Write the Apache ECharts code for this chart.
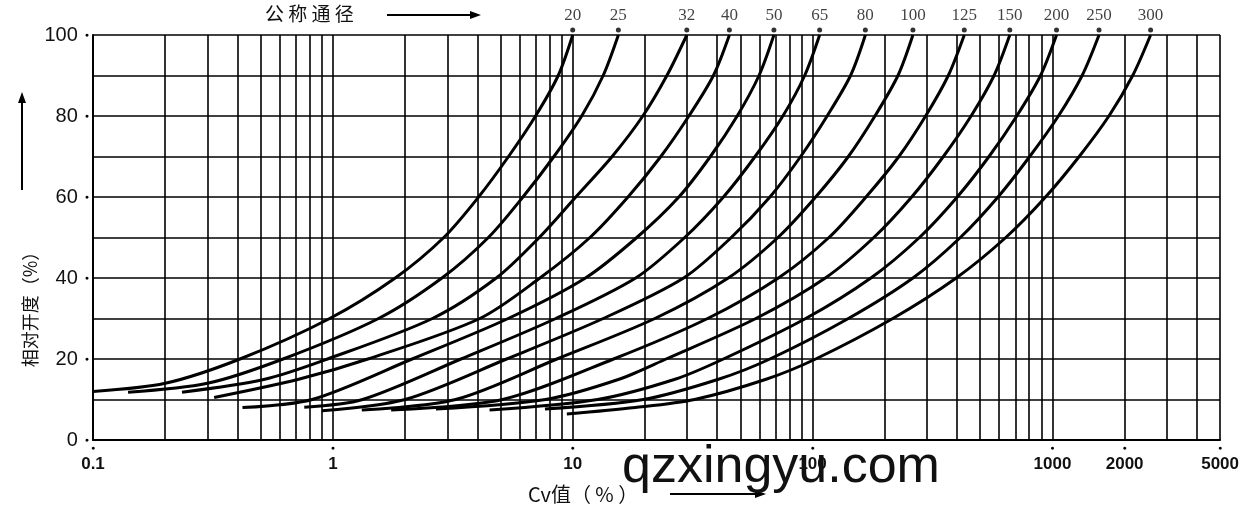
<!DOCTYPE html>
<html>
<head>
<meta charset="utf-8">
<script src="https://cdn.jsdelivr.net/npm/echarts@6/dist/echarts.min.js"></script>
<style>
html, body { margin: 0; padding: 0; background: #fff; }
#con { width: 1242px; height: 515px; }
</style>
</head>
<body>
<div id="con"></div>
<script>
// 公称通径 (curve names)
var sizes = ['20', '25', '32', '40', '50', '65', '80', '100', '125', '150', '200', '250', '300'];

// each curve: [Cv, 相对开度]
var c20  = [[0.1, 12], [0.2, 14], [0.41, 20], [0.97, 30], [1.82, 40], [2.9, 50], [4.05, 60], [5.4, 70], [7.0, 80], [8.7, 90], [10, 100]];
var c25  = [[0.14, 11.8], [0.3, 14], [0.62, 20], [1.55, 30], [2.85, 40], [4.45, 50], [6.2, 60], [8.35, 70], [10.9, 80], [13.4, 90], [15.5, 100]];
var c32  = [[0.235, 11.8], [0.52, 15], [0.95, 20], [2.6, 30], [4.8, 40], [7.25, 50], [10.3, 60], [14.6, 70], [19.6, 80], [24.7, 90], [29.9, 100]];
var c40  = [[0.32, 10.5], [0.72, 15], [1.4, 20], [4.1, 30], [7.3, 40], [11.8, 50], [17, 60], [23.3, 70], [30.5, 80], [38.6, 90], [45, 100]];
var c50  = [[0.42, 8], [0.82, 10], [2.14, 20], [5.38, 30], [11.3, 40], [18.5, 50], [27.7, 60], [37.5, 70], [48.5, 80], [59.8, 90], [69, 100]];
var c65  = [[0.76, 8.1], [1.33, 10], [3.42, 20], [8.5, 30], [18.3, 40], [29.3, 50], [42.5, 60], [57.6, 70], [75.2, 80], [92.7, 90], [107, 100]];
var c80  = [[0.9, 7.2], [2.0, 10], [5.3, 20], [13.4, 30], [29, 40], [45.8, 50], [66.4, 60], [89.2, 70], [115, 80], [144, 90], [166, 100]];
var c100 = [[1.32, 7.4], [3.25, 10], [8.59, 20], [22, 30], [44.5, 40], [71.7, 50], [103, 60], [141, 70], [182, 80], [227, 90], [262, 100]];
var c125 = [[1.75, 7.4], [5.1, 10], [14.8, 20], [36.5, 30], [72, 40], [117, 50], [167, 60], [229, 70], [296, 80], [368, 90], [429, 100]];
var c150 = [[2.69, 7.65], [7.7, 10], [15.6, 15], [24.5, 20], [58, 30], [113, 40], [180, 50], [259, 60], [351, 70], [458, 80], [571, 90], [664, 100]];
var c200 = [[4.5, 7.4], [12.7, 10], [26.7, 15], [42.5, 20], [93.6, 30], [175, 40], [279, 50], [401, 60], [544, 70], [710, 80], [892, 90], [1040, 100]];
var c250 = [[7.66, 7.65], [19.7, 10], [40.5, 15], [66.4, 20], [141, 30], [262, 40], [413, 50], [593, 60], [804, 70], [1059, 80], [1330, 90], [1564, 100]];
var c300 = [[9.45, 6.4], [18.2, 8], [32.2, 10], [64, 15], [103, 20], [216, 30], [397, 40], [639, 50], [936, 60], [1293, 70], [1720, 80], [2161, 90], [2566, 100]];
var curves = [c20, c25, c32, c40, c50, c65, c80, c100, c125, c150, c200, c250, c300];

// axis
var xLabels = [0.1, 1, 10, 100, 1000, 2000, 5000];
var decades = [0.1, 1, 10, 100];
var xTop = [1000, 2000, 3000, 4000, 5000];

// 竖向网格线
var xGrid = [];
for (var i = 0; i < decades.length; i++) {
	for (var k = 1; k <= 9; k++) {
		xGrid.push(+(decades[i] * k).toPrecision(3));
	}
}
xGrid = xGrid.concat(xTop);

var ends = curves.map(function (d, i) {
	var last = d[d.length - 1];
	return [last[0], last[1], sizes[i]];
});

var myChart = echarts.init(document.getElementById('con'));

var series = curves.map(function (d, i) {
	return {
		name: sizes[i],
		type: 'line',
		data: d,
		smooth: 0.3,
		symbol: 'none',
		clip: false,
		lineStyle: { color: '#000', width: 3 },
		z: 3
	};
});

series.push({
	type: 'scatter',
	data: ends,
	symbol: 'circle',
	symbolSize: 5,
	symbolOffset: [0, -5],
	clip: false,
	itemStyle: { color: '#000' },
	label: {
		show: true,
		position: 'top',
		distance: 3,
		formatter: function (p) { return p.data[2]; },
		fontFamily: 'Liberation Serif',
		fontSize: 17,
		color: '#111'
	},
	markLine: {
		silent: true,
		symbol: ['none', 'none'],
		label: { show: false },
		lineStyle: { color: '#000', width: 1.6, type: 'solid' },
		data: xGrid.map(function (v) { return { xAxis: v }; })
	},
	z: 4
});

function arrow(x1, y1, x2, y2) {
	var ang = Math.atan2(y2 - y1, x2 - x1);
	var hl = 11, hw = 4;
	var bx = x2 - hl * Math.cos(ang), by = y2 - hl * Math.sin(ang);
	return [{
		type: 'line',
		shape: { x1: x1, y1: y1, x2: bx, y2: by },
		style: { stroke: '#000', lineWidth: 2 }
	}, {
		type: 'polygon',
		shape: { points: [[x2, y2],
			[bx + hw * Math.sin(ang), by - hw * Math.cos(ang)],
			[bx - hw * Math.sin(ang), by + hw * Math.cos(ang)]] },
		style: { fill: '#000' }
	}];
}

var option = {
	animation: false,
	backgroundColor: '#fff',
	grid: { left: 93, right: 20, top: 35, bottom: 75 },
	xAxis: {
		type: 'log',
		logBase: 10,
		min: 0.1,
		max: 5000,
		axisLine: { show: true, onZero: false, lineStyle: { color: '#000', width: 2 } },
		axisTick: { show: false },
		splitLine: { show: false },
		minorSplitLine: { show: false },
		axisLabel: {
			customValues: xLabels,
			margin: 2,
			formatter: function (v) { return '{d|●}\n{v|' + v + '}'; },
			rich: {
				d: { fontSize: 7, lineHeight: 12, color: '#000' },
				v: { fontSize: 17, fontWeight: 'bold', fontFamily: 'Liberation Sans', color: '#111', lineHeight: 20 }
			}
		}
	},
	yAxis: {
		type: 'value',
		min: 0,
		max: 100,
		interval: 10,
		axisLine: { show: true, lineStyle: { color: '#000', width: 2 } },
		axisTick: { show: false },
		splitLine: { show: true, lineStyle: { color: '#000', width: 1.6 } },
		axisLabel: {
			margin: 4,
			formatter: function (v) { return v % 20 === 0 ? '{v|' + v + '}{d|●}' : ''; },
			rich: {
				v: { fontSize: 20, fontFamily: 'Liberation Sans', color: '#111' },
				d: { fontSize: 7, color: '#000', padding: [0, 0, 0, 7] }
			}
		}
	},
	graphic: [].concat([
		{
			type: 'text', left: 265, top: 4,
			style: { text: '公 称 通 径', font: '19px "Noto Sans CJK SC"', fill: '#111' }
		},
		{
			type: 'text', x: 30, y: 305, rotation: Math.PI / 2,
			style: { text: '相对开度（%）', font: '18px "Noto Sans CJK SC"', fill: '#111', align: 'center', verticalAlign: 'middle' }
		},
		{
			type: 'text', left: 528, top: 484,
			style: { text: 'Cv值（ % ）', font: '20px "Noto Sans CJK SC"', fill: '#111' }
		},
		{
			type: 'text', x: 622, y: 468,
			style: { text: 'qzxingyu.com', font: '52px "Liberation Sans"', fill: '#111', verticalAlign: 'middle' },
			z: 10
		}
	], arrow(387, 15, 481, 15), arrow(22, 190, 22, 92), arrow(670, 494, 766, 494)),
	series: series
};

myChart.setOption(option);
window.onresize = myChart.resize;
</script>
</body>
</html>
